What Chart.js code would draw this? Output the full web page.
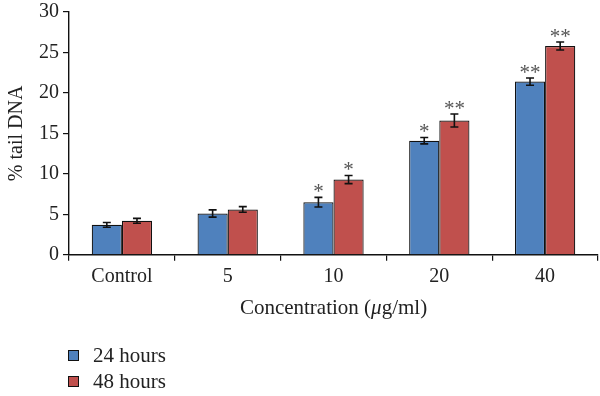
<!DOCTYPE html>
<html>
<head>
<meta charset="utf-8">
<script src="https://cdn.jsdelivr.net/npm/chart.js@4"></script>
<style>
  html, body { margin: 0; padding: 0; background: #fff; }
  #wrap { width: 600px; height: 396px; }
</style>
</head>
<body>
<div id="wrap"><canvas id="comet-graph"></canvas></div>
<script>
let concentrations = ["Control", "5", "10", "20", "40"];
let hours24 = [3.7, 5.1, 6.5, 14.1, 21.4];
let hours48 = [4.2, 5.6, 9.3, 16.6, 25.8];
let err24 = [0.3, 0.45, 0.6, 0.4, 0.45];
let err48 = [0.3, 0.35, 0.5, 0.8, 0.5];
let stars24 = ["", "", "*", "*", "**"];
let stars48 = ["", "", "*", "**", "**"];
let yTicks = [0, 5, 10, 15, 20, 25, 30];

const serif = "'Liberation Serif', 'DejaVu Serif', serif";
const ink = "#222";

// error bars, significance stars, x title with italic mu, legend
const extras = {
    id: "extras",
    afterDatasetsDraw(chart) {
        const ctx = chart.ctx;
        const y = chart.scales.y;
        const errs = [err24, err48];
        const stars = [stars24, stars48];
        ctx.save();
        chart.data.datasets.forEach((ds, di) => {
            chart.getDatasetMeta(di).data.forEach((bar, i) => {
                const v = ds.data[i];
                const top = y.getPixelForValue(v + errs[di][i]);
                const bot = y.getPixelForValue(v - errs[di][i]);
                ctx.strokeStyle = "#111";
                ctx.lineWidth = 1.6;
                ctx.beginPath();
                ctx.moveTo(bar.x, top); ctx.lineTo(bar.x, bot);
                ctx.moveTo(bar.x - 4, top); ctx.lineTo(bar.x + 4, top);
                ctx.moveTo(bar.x - 4, bot); ctx.lineTo(bar.x + 4, bot);
                ctx.stroke();
                const s = stars[di][i];
                if (s) {
                    ctx.fillStyle = "#555";
                    ctx.font = "21px " + serif;
                    ctx.textAlign = "center";
                    ctx.textBaseline = "alphabetic";
                    ctx.fillText(s, bar.x, top + 1);
                }
            });
        });
        ctx.restore();
    },
    afterDraw(chart) {
        const ctx = chart.ctx;
        const area = chart.chartArea;
        ctx.save();
        // x axis title
        const parts = [["Concentration (", "normal"], ["\u03bc", "italic"], ["g/ml)", "normal"]];
        let total = 0;
        parts.forEach(p => { ctx.font = p[1] + " 21px " + serif; total += ctx.measureText(p[0]).width; });
        let x = (area.left + area.right) / 2 - total / 2;
        ctx.fillStyle = ink;
        ctx.textBaseline = "middle";
        ctx.textAlign = "left";
        parts.forEach(p => {
            ctx.font = p[1] + " 21px " + serif;
            ctx.fillText(p[0], x, 308);
            x += ctx.measureText(p[0]).width;
        });
        // legend
        chart.data.datasets.forEach((ds, di) => {
            const ly = 356 + di * 26;
            ctx.fillStyle = ds.backgroundColor;
            ctx.fillRect(68, ly - 6, 11, 11);
            ctx.strokeStyle = "#111";
            ctx.lineWidth = 1;
            ctx.strokeRect(68.5, ly - 5.5, 10, 10);
            ctx.fillStyle = ink;
            ctx.font = "21px " + serif;
            ctx.fillText(ds.label, 93, ly);
        });
        ctx.restore();
    }
};

let cometGraph = new Chart("comet-graph", {
    type: "bar",
    data: {
        labels: concentrations,
        datasets: [{
            label: "24 hours",
            backgroundColor: "#4F81BD",
            borderColor: "#111",
            borderWidth: 1.2,
            data: hours24
        }, {
            label: "48 hours",
            backgroundColor: "#C0504D",
            borderColor: "#111",
            borderWidth: 1.2,
            data: hours48
        }]
    },
    options: {
        responsive: true,
        maintainAspectRatio: false,
        animation: false,
        layout: { padding: { top: 0, right: 2, left: 5, bottom: 76 } },
        datasets: { bar: { categoryPercentage: 0.57, barPercentage: 1.0 } },
        plugins: {
            legend: { display: false },
            tooltip: { enabled: false }
        },
        scales: {
            x: {
                offset: true,
                grid: { offset: true, drawOnChartArea: false, tickLength: 6, color: "#111", lineWidth: 1.2 },
                border: { color: "#111", width: 1.4 },
                ticks: { color: ink, font: { family: serif, size: 20 }, padding: 4 },
                title: { display: true, text: "Concentration (\u03bcg/ml)", color: "rgba(0,0,0,0)", font: { family: serif, size: 21 }, padding: { top: 2, bottom: 0 } }
            },
            y: {
                min: 0,
                max: 30,
                afterBuildTicks: axis => { axis.ticks = yTicks.map(v => ({ value: v })); },
                grid: { drawOnChartArea: false, tickLength: 6, color: "#111", lineWidth: 1.2 },
                border: { color: "#111", width: 1.4 },
                ticks: { color: ink, font: { family: serif, size: 20, lineHeight: 0.8 }, padding: 4 },
                title: { display: true, text: "% tail DNA", color: ink, font: { family: serif, size: 20 }, padding: { top: 0, bottom: 6 } }
            }
        }
    },
    plugins: [extras]
});
</script>
</body>
</html>
